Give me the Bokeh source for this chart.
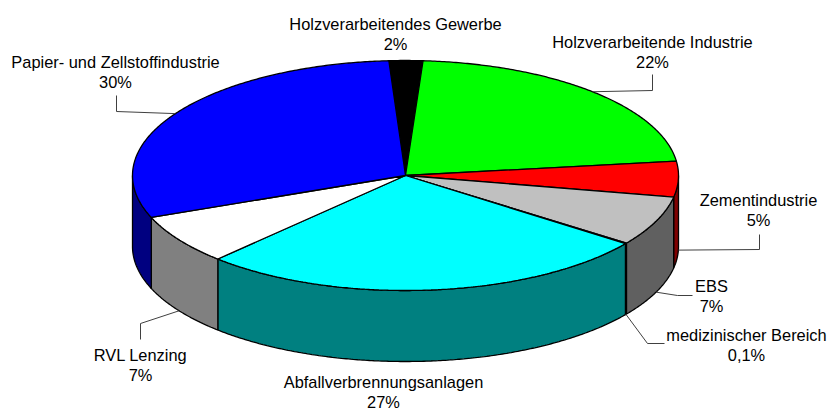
import math
from bokeh.plotting import figure
from bokeh.models import Range1d, ColumnDataSource
from bokeh.core.properties import value
from bokeh.embed import file_html
from bokeh.resources import INLINE

# ---- data ----
categories = ["Holzverarbeitendes Gewerbe", "Holzverarbeitende Industrie", "Zementindustrie",
              "EBS", "medizinischer Bereich", "Abfallverbrennungsanlagen", "RVL Lenzing",
              "Papier- und Zellstoffindustrie"]
shares = [2, 22, 5, 7, 0.1, 27, 7, 30]
share_labels = ["2%", "22%", "5%", "7%", "0,1%", "27%", "7%", "30%"]

# ---- styles ----
top_colors = ["#000000", "#00FF00", "#FF0000", "#C0C0C0", "#9999FF", "#00FFFF", "#FFFFFF", "#0000FF"]
side_colors = ["#000000", "#008000", "#800000", "#606060", "#4D4D80", "#008080", "#808080", "#000080"]

# ---- layout (screen pixels) ----
W, H = 828, 411
CX, CY, RX, RY, DEPTH = 405.0, 175.0, 273.0, 115.0, 71.0
START = -3.5
label_pos = [(395, 23), (652, 41), (758, 199), (711, 285), (746, 334), (383, 381), (140, 354), (115, 61)]
leader_pts = [None, [(652, 74), (652, 90)], [(759, 234), (759, 249)], [(692, 295), (677, 295)],
              [(664, 343), (647, 343)], None, [(140, 339), (140, 323)], [(116, 95), (116, 111)]]
LINE_GAP = 20.5

def pt(theta, dy=0.0):
    t = math.radians(theta)
    return CX + RX * math.sin(t), CY - RY * math.cos(t) + dy

def arc(a0, a1, dy=0.0):
    n = max(2, int(abs(a1 - a0) * 2) + 2)
    return [pt(a0 + (a1 - a0) * i / (n - 1), dy) for i in range(n)]

total = sum(shares)
bounds = []
acc = START
for v in shares:
    a0 = acc
    acc += v / total * 360.0
    bounds.append((a0, acc))

p = figure(width=W, height=H, output_backend="svg", toolbar_location=None,
           x_range=Range1d(0, W), y_range=Range1d(H, 0),
           x_axis_location=None, y_axis_location=None, min_border=0)
p.outline_line_color = None
p.grid.visible = False

# sides (front half)
sx, sy, sc = [], [], []
for (a0, a1), col in zip(bounds, side_colors):
    for off in (0, 360):
        lo, hi = max(a0 + off, 90), min(a1 + off, 270)
        if hi > lo:
            pts = arc(lo, hi) + arc(hi, lo, DEPTH)
            sx.append([q[0] for q in pts]); sy.append([q[1] for q in pts]); sc.append(col)
p.patches(xs="xs", ys="ys", fill_color="c", line_color="black", line_width=1.3,
          source=ColumnDataSource(dict(xs=sx, ys=sy, c=sc)))

# tops
tx, ty = [], []
for (a0, a1) in bounds:
    pts = [(CX, CY)] + arc(a0, a1)
    tx.append([q[0] for q in pts]); ty.append([q[1] for q in pts])
p.patches(xs="xs", ys="ys", fill_color="c", line_color="black", line_width=1.3,
          source=ColumnDataSource(dict(xs=tx, ys=ty, c=top_colors)))

# leader lines
lx, ly = [], []
for (a0, a1), lp in zip(bounds, leader_pts):
    if lp is None:
        continue
    mid = (a0 + a1) / 2 % 360
    end = pt(mid, DEPTH if 90 <= mid <= 270 else 0)
    pts = lp + [end]
    lx.append([q[0] for q in pts]); ly.append([q[1] for q in pts])
p.multi_line(xs=lx, ys=ly, line_color="#404040", line_width=1)

# labels
p.text(x=[q[0] for q in label_pos], y=[q[1] for q in label_pos], text=categories,
       text_font=value("Liberation Sans"), text_font_size="16.4px", text_color="black",
       text_align="center", text_baseline="middle")
p.text(x=[q[0] for q in label_pos], y=[q[1] + LINE_GAP for q in label_pos], text=share_labels,
       text_font=value("Liberation Sans"), text_font_size="16.4px", text_color="black",
       text_align="center", text_baseline="middle")

open("out.html", "w").write(file_html(p, INLINE))
